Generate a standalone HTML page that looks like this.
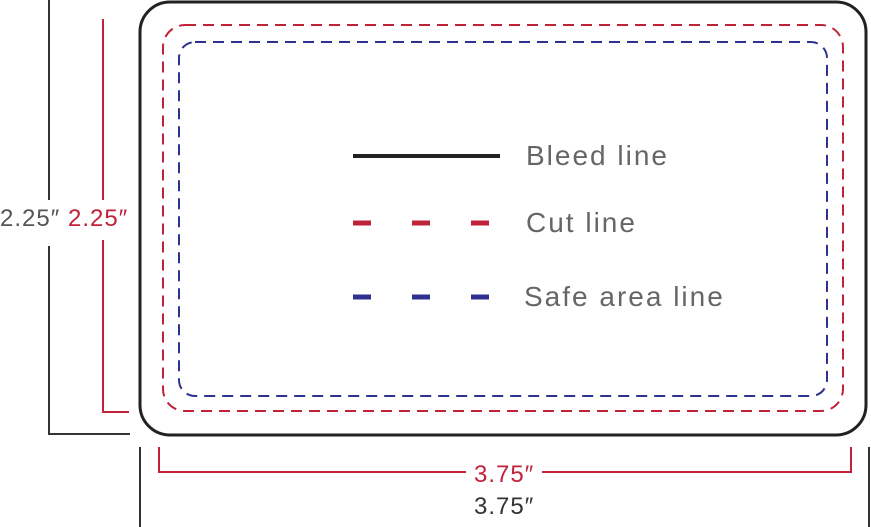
<!DOCTYPE html><html><head><style>body{margin:0;background:#fff}svg{display:block}text{font-family:"Liberation Sans",sans-serif}</style></head><body>
<svg width="871" height="527" viewBox="0 0 871 527">
<rect x="140" y="2" width="726" height="433" rx="30" fill="none" stroke="#222" stroke-width="3"/>
<rect x="163" y="25" width="680" height="386" rx="22" fill="none" stroke="#c0223a" stroke-width="2" stroke-dasharray="11 7"/>
<rect x="179" y="42" width="648" height="354" rx="16" fill="none" stroke="#2e3192" stroke-width="2" stroke-dasharray="11 7"/>
<g fill="none" stroke-width="2">
<polyline points="49,0 49,200" stroke="#333"/>
<polyline points="49,246 49,434 130,434" stroke="#333"/>
<polyline points="103,19 103,200" stroke="#c0223a"/>
<polyline points="103,240 103,412 129,412" stroke="#c0223a"/>
<line x1="140" y1="447" x2="140" y2="527" stroke="#333"/>
<line x1="869" y1="447" x2="869" y2="527" stroke="#333"/>
<polyline points="159,447 159,472 466,472" stroke="#c0223a"/>
<polyline points="542,472 851,472 851,447" stroke="#c0223a"/>
</g>
<line x1="353" y1="156" x2="500" y2="156" stroke="#222" stroke-width="4"/>
<g stroke-width="5">
<path d="M353 223h18M412 223h18M471 223h18" stroke="#c0223a"/>
<path d="M353 297h18M412 297h18M471 297h18" stroke="#2e3192"/>
</g>
<g fill="#666" font-size="28" letter-spacing="2">
<text x="526" y="165">Bleed line</text>
<text x="526" y="232">Cut line</text>
<text x="524" y="306">Safe area line</text>
</g>
<g font-size="24" letter-spacing="1">
<text x="0" y="226" fill="#555">2.25″</text>
<text x="68" y="226" fill="#c0223a">2.25″</text>
<text x="474" y="482" fill="#c0223a">3.75″</text>
<text x="474" y="514" fill="#333">3.75″</text>
</g>
</svg>
</body></html>
